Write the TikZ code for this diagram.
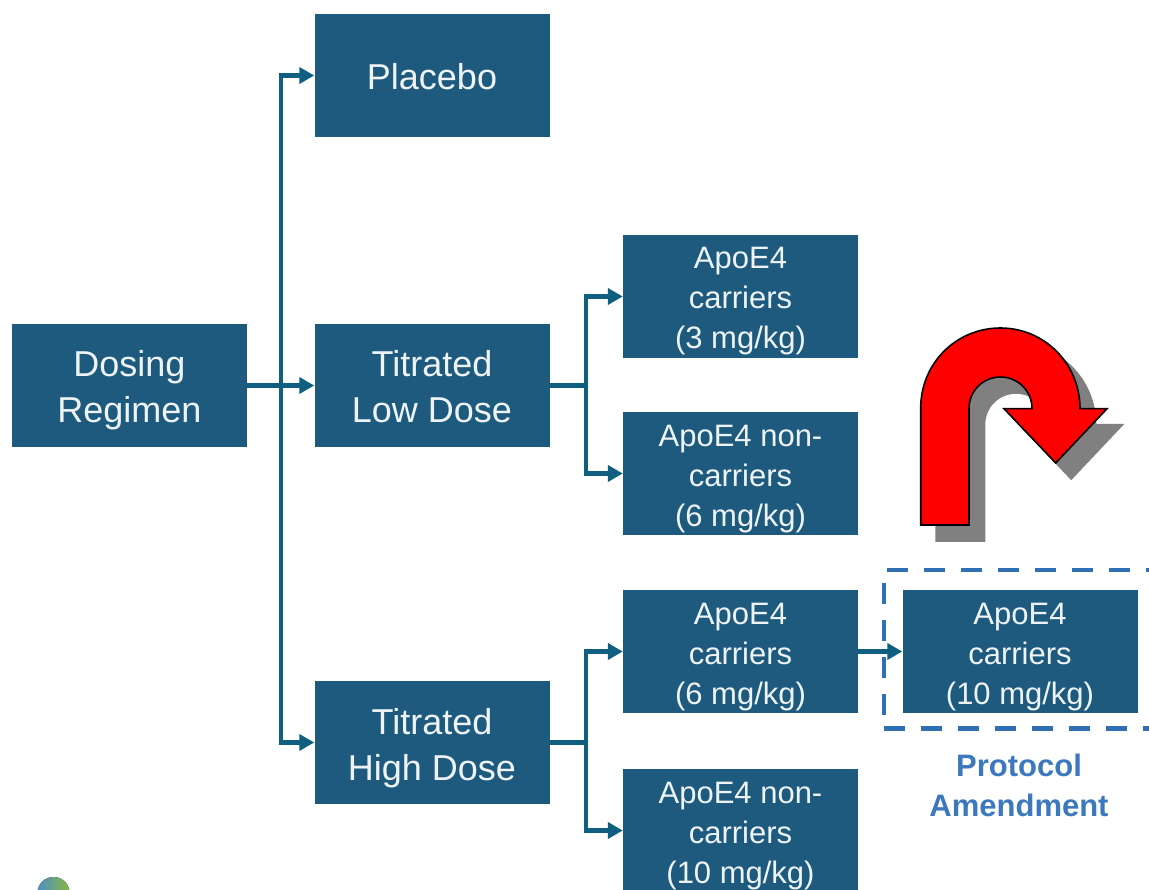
\documentclass[tikz,border=0pt]{standalone}
\usepackage{fontspec}
\setmainfont{Liberation Sans}
\usetikzlibrary{arrows.meta,calc}
\definecolor{boxblue}{HTML}{1D5A7D}
\definecolor{linkblue}{HTML}{0F5F80}
\definecolor{dashblue}{HTML}{2F6FB3}
\definecolor{amendblue}{HTML}{3B78BE}
\definecolor{boxtext}{HTML}{EEF3F6}
\definecolor{globeblue}{HTML}{4F8FC8}
\definecolor{globegreen}{HTML}{86B83C}
\newcommand{\uturnpath}{(920.7,525) -- (920.7,408)
  .. controls (920.7,363.8) and (955.8,328) .. (1000.4,328)
  .. controls (1044.6,328) and (1080,363.8) .. (1080,408.7)
  -- (1107,408.7) -- (1055.7,463) -- (1004,408.7) -- (1032,408.7)
  .. controls (1032,391) and (1018,377) .. (1000.5,377)
  .. controls (983,377) and (969,391) .. (969,408.5)
  -- (969,525) -- cycle}
\tikzset{
  boxbase/.style={fill=boxblue,text=boxtext,minimum width=235pt,minimum height=123pt,inner sep=0pt,align=center},
  bigbox/.style={boxbase,font=\fontsize{36}{46}\selectfont,text height=75pt,text depth=0pt},
  onelinebox/.style={boxbase,font=\fontsize{36}{46}\selectfont,execute at begin node={\rule{0pt}{29pt}}},
  smallbox/.style={boxbase,font=\fontsize{31}{40}\selectfont,text height=105pt,text depth=0pt},
  link/.style={draw=linkblue,line width=4.6pt},
  linkarrow/.style={link,-{Triangle[length=15pt,width=16pt]}},
  amendline/.style={draw=dashblue,line width=4.5pt,dash pattern=on 21pt off 16pt},
  amendlabel/.style={text=amendblue,inner sep=0pt,align=center,font=\fontsize{31}{40}\selectfont\bfseries}
}
\begin{document}
\begin{tikzpicture}[x=1pt,y=-1pt]
\useasboundingbox (0,0) rectangle (1149,890);
\clip (0,0) rectangle (1149,890);
\fill[white] (0,0) rectangle (1149,890);

% boxes
\node[bigbox] (dose) at (129.5,385.5) {Dosing\\Regimen};
\node[onelinebox] (placebo) at (432,75.5) {Placebo};
\node[bigbox] (low) at (432,385.5) {Titrated\\Low Dose};
\node[bigbox] (high) at (432,742.5) {Titrated\\High Dose};
\node[smallbox] (c3) at (740.5,296.5) {ApoE4\\carriers\\(3 mg/kg)};
\node[smallbox] (n6) at (740.5,473.5) {ApoE4 non-\\carriers\\(6 mg/kg)};
\node[smallbox] (c6) at (740.5,651.5) {ApoE4\\carriers\\(6 mg/kg)};
\node[smallbox] (n10) at (740.5,830.5) {ApoE4 non-\\carriers\\(10 mg/kg)};
\node[smallbox] (c10) at (1020,651.5) {ApoE4\\carriers\\(10 mg/kg)};

% connectors
\coordinate (trunk) at (281,385.5);
\coordinate (lowfork) at (586,385.5);
\coordinate (highfork) at (586,742.5);
\draw[linkarrow] (dose.east) -- (low.west);
\draw[linkarrow] (trunk) |- (placebo.west);
\draw[linkarrow] (trunk) |- (high.west);
\draw[link] (low.east) -- (lowfork);
\draw[link] (high.east) -- (highfork);
\draw[linkarrow] (lowfork) |- (c3.west);
\draw[linkarrow] (lowfork) |- (n6.west);
\draw[linkarrow] (highfork) |- (c6.west);
\draw[linkarrow] (highfork) |- (n10.west);
\draw[linkarrow] (c6.east) -- (c10.west);

% protocol amendment frame
\draw[amendline] (887,570) -- (1165,570);
\draw[amendline] (884,583) -- (884,725);
\draw[amendline] (884,728.5) -- (1165,728.5);
\node[amendlabel] (amend) at (1019,785) {Protocol\\Amendment};

% U-turn arrow
\filldraw[fill=black!50,draw=black!50,line width=1.6pt,xshift=15.5pt,yshift=-16pt] \uturnpath;
\filldraw[fill=red,draw=black,line width=1.6pt,line join=miter] \uturnpath;

% logo fragment
\begin{scope}
\clip (53.5,893) circle (16);
\fill[left color=globeblue,right color=globegreen] (37,877) rectangle (70,893);
\end{scope}
\end{tikzpicture}
\end{document}
